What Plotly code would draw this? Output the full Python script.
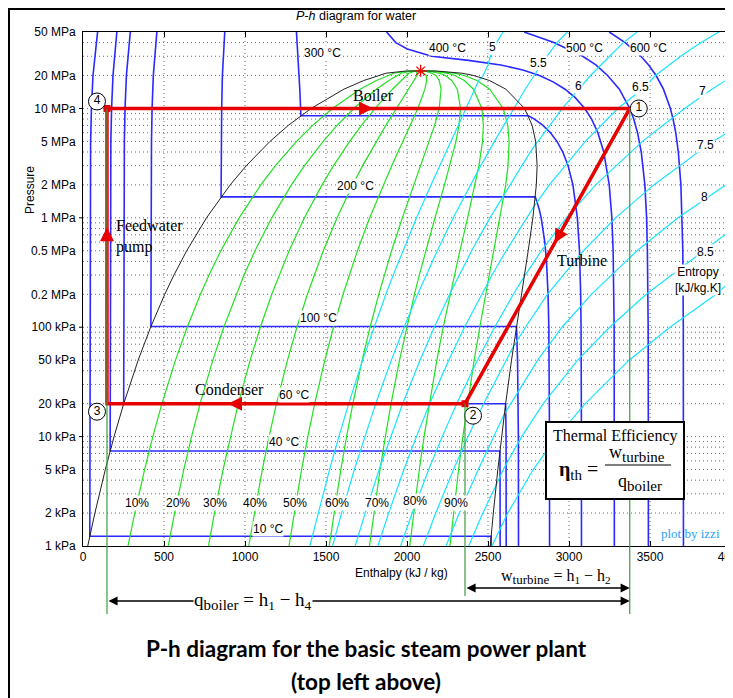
import math
import plotly.graph_objects as go

# ------------------------------------------------------------------ data
# saturation table: pressure (kPa), hf, hg (kJ/kg), sf, sg (kJ/kg.K)
sat_P = [1, 2, 5, 10, 20, 50, 100, 200, 300, 500, 1000, 2000, 3000, 5000, 7000,
         10000, 15000, 18000, 20000, 21000, 22000, 22064]
sat_hf = [29.3, 73.43, 137.75, 191.81, 251.42, 340.54, 417.51, 504.70, 561.43, 640.09,
          762.51, 908.47, 1008.3, 1154.5, 1267.2, 1408.1, 1610.2, 1732.9, 1827.2,
          1870.0, 1995.0, 2084.3]
sat_hg = [2513.7, 2532.9, 2560.7, 2583.9, 2608.9, 2645.2, 2675.0, 2706.3, 2724.9, 2748.1,
          2777.1, 2798.3, 2803.2, 2794.2, 2772.6, 2725.5, 2610.7, 2509.5, 2412.3,
          2340.0, 2180.0, 2084.3]
sat_sf = [0.1059, 0.2606, 0.4762, 0.6492, 0.8320, 1.0912, 1.3028, 1.5302, 1.6717, 1.8604,
          2.1381, 2.4470, 2.6454, 2.9207, 3.1224, 3.3603, 3.6848, 3.8720, 4.0156,
          4.10, 4.29, 4.407]
sat_sg = [8.9749, 8.7227, 8.3938, 8.1488, 7.9073, 7.5931, 7.3589, 7.1270, 6.9917, 6.8207,
          6.5850, 6.3390, 6.1856, 5.9737, 5.8148, 5.6159, 5.3097, 5.1061, 4.9314,
          4.83, 4.55, 4.407]

# quality lines
qualities = [0.1, 0.2, 0.3, 0.4, 0.5, 0.6, 0.7, 0.8, 0.9]
quality_labels = ["10%", "20%", "30%", "40%", "50%", "60%", "70%", "80%", "90%"]

# isotherms (pressure kPa, enthalpy kJ/kg)
t10_P = [50000, 20000, 10000, 5000, 1.228, 1.228, 1]
t10_h = [90.0, 61.7, 52.0, 47.0, 42.0, 2519.2, 2519.5]
t40_P = [50000, 20000, 10000, 5000, 7.385, 7.385, 5, 1]
t40_h = [209.0, 185.1, 176.4, 171.9, 167.5, 2573.5, 2574.3, 2575.0]
t60_P = [50000, 20000, 10000, 5000, 19.95, 19.95, 10, 5, 1]
t60_h = [292.0, 267.9, 259.5, 255.3, 251.1, 2608.8, 2611.5, 2612.0, 2612.4]
t100_P = [50000, 20000, 10000, 5000, 101.42, 101.42, 50, 20, 10, 1]
t100_h = [456.0, 434.0, 426.5, 422.7, 419.1, 2676.0, 2682.4, 2686.2, 2687.5, 2688.3]
t200_P = [50000, 30000, 20000, 10000, 5000, 1554.9, 1554.9, 1400, 1200, 1000, 800, 600,
          400, 200, 100, 50, 10, 1]
t200_h = [875.0, 867.0, 860.5, 856.0, 853.9, 852.3, 2792.0, 2803.0, 2816.0, 2828.3,
          2839.8, 2850.6, 2860.9, 2870.7, 2875.5, 2877.8, 2879.6, 2880.0]
t300_P = [50000, 30000, 20000, 15000, 10000, 8581, 8581, 8000, 7000, 6000, 5000, 4000,
          3000, 2000, 1000, 500, 200, 100, 10, 1]
t300_h = [1317.6, 1327.9, 1334.3, 1338.3, 1343.3, 1344.8, 2749.6, 2786.5, 2839.4, 2885.5,
          2925.7, 2961.7, 2994.3, 3024.2, 3051.6, 3064.6, 3072.1, 3074.5, 3076.7, 3077.0]
t400_P = [50000, 40000, 35000, 30000, 27500, 25000, 22500, 20000, 17500, 15000, 12500,
          10000, 8000, 6000, 4000, 2000, 1000, 500, 100, 10, 1]
t400_h = [1874.0, 1930.8, 2002.0, 2152.8, 2380.0, 2578.0, 2715.0, 2818.1, 2902.0, 2975.7,
          3040.0, 3097.5, 3139.4, 3178.3, 3214.5, 3248.4, 3264.5, 3272.4, 3278.6, 3279.9,
          3280.0]
t500_P = [50000, 40000, 30000, 25000, 20000, 15000, 10000, 8000, 6000, 4000, 2000, 1000,
          500, 100, 10, 1]
t500_h = [2723.0, 2906.5, 3084.8, 3165.9, 3238.2, 3310.8, 3375.1, 3399.5, 3423.1, 3446.0,
          3468.3, 3479.1, 3483.8, 3488.7, 3489.7, 3490.0]
t600_P = [50000, 40000, 30000, 25000, 20000, 15000, 10000, 8000, 6000, 4000, 2000, 1000,
          500, 100, 10, 1]
t600_h = [3248.3, 3346.4, 3443.5, 3491.5, 3537.6, 3583.1, 3625.8, 3642.4, 3658.8, 3674.9,
          3690.7, 3698.6, 3702.5, 3705.6, 3706.3, 3706.5]

# constant-entropy lines: superheated parts (pressure kPa, enthalpy kJ/kg)
s50_P = [20000, 25000, 30000, 40000, 50000]
s50_h = [2470, 2500, 2515, 2553, 2593]
s55_P = [11900, 15000, 20000, 25000, 30000, 40000, 50000]
s55_h = [2688, 2730, 2785, 2828, 2863, 2926, 2990]
s60_P = [4800, 5000, 10000, 15000, 20000, 30000, 40000, 50000]
s60_h = [2796, 2809, 2959, 3058, 3133, 3251, 3335, 3421]
s65_P = [1280, 2000, 5000, 10000, 15000, 20000, 30000, 40000, 50000]
s65_h = [2785, 2879, 3101, 3301, 3452, 3534, 3689, 3815, 3925]
s70_P = [290, 500, 1000, 2000, 5000, 10000, 15000, 20000]
s70_h = [2724, 2829, 2983, 3165, 3453, 3714, 3882, 4015]
s75_P = [66, 100, 200, 500, 1000, 2000, 5000, 10000]
s75_h = [2655, 2731, 2867, 3089, 3288, 3523, 3888, 4227]
s80_P = [16, 20, 50, 100, 200, 500, 1000, 2000, 3000]
s80_h = [2600, 2641, 2807, 2957, 3138, 3420, 3673, 3968, 4120]
s85_P = [3.6, 5, 10, 20, 50, 100, 200, 500, 1000]
s85_h = [2550, 2594, 2708, 2841, 3053, 3251, 3477, 3837, 4100]
s90_P = [1, 2, 5, 10, 20, 50, 100, 200, 300]
s90_h = [2524, 2622, 2779, 2927, 3100, 3371, 3623, 3908, 4040]
entropy_values = [5.0, 5.5, 6.0, 6.5, 7.0, 7.5, 8.0, 8.5, 9.0]
entropy_labels = ["5", "5.5", "6", "6.5", "7", "7.5", "8", "8.5"]

# Rankine cycle states 1..4
state_h = [3375, 2358, 148, 148]
state_P = [10000, 20, 20, 10000]
state_names = ["1", "2", "3", "4"]

# axis
h_ticks = [0, 500, 1000, 1500, 2000, 2500, 3000, 3500, 4000]
p_ticks = [50000, 20000, 10000, 5000, 2000, 1000, 500, 200, 100, 50, 20, 10, 5, 2, 1]
p_tick_text = ["50 MPa", "20 MPa", "10 MPa", "5 MPa", "2 MPa", "1 MPa", "0.5 MPa",
               "0.2 MPa", "100 kPa", "50 kPa", "20 kPa", "10 kPa", "5 kPa", "2 kPa", "1 kPa"]
H_MIN, H_MAX = 0, 4000
P_MIN, P_MAX = 1, 50000

# ------------------------------------------------------------------ layout geometry
# all pixel positions below are page pixels; the page body adds an 8px offset
OFF = 8
PAGE_W, PAGE_H = 733, 698
W, HGT = PAGE_W - OFF, PAGE_H - OFF
L, R, T, B = 83, 731, 32, 546
LOGMIN, LOGMAX = math.log10(P_MIN), math.log10(P_MAX)
SX = (R - L) / (H_MAX - H_MIN)
SY = (B - T) / (LOGMAX - LOGMIN)

SANS = "Liberation Sans, Arial, sans-serif"
SERIF = "Liberation Serif, Times New Roman, serif"
RED = "#e60000"
BLUE = "#2a2aff"
GREEN = "#22e022"
CYAN = "#18e4ff"
DGREEN = "#3c9c3c"


def fx(px):
    return (px - L) / (R - L)


def fy(py):
    return (B - py) / (B - T)


def fy_p(p):
    return (math.log10(p) - LOGMIN) / (LOGMAX - LOGMIN)


def h_shift(h, dpx):
    return h + dpx / SX


def p_shift(p, dpy):
    return p * 10 ** (-dpy / SY)


fig = go.Figure()

# isotherms
for P, h in [(t10_P, t10_h), (t40_P, t40_h), (t60_P, t60_h), (t100_P, t100_h),
             (t200_P, t200_h), (t300_P, t300_h), (t400_P, t400_h), (t500_P, t500_h),
             (t600_P, t600_h)]:
    fig.add_trace(go.Scatter(x=h, y=P, mode="lines", line=dict(color=BLUE, width=1.6),
                             hoverinfo="skip"))

# quality lines
for q in qualities:
    hq = [hf + q * (hg - hf) for hf, hg in zip(sat_hf, sat_hg)]
    fig.add_trace(go.Scatter(x=hq, y=sat_P, mode="lines", line=dict(color=GREEN, width=1.2),
                             hoverinfo="skip"))

# entropy lines
sup_parts = [(s50_P, s50_h), (s55_P, s55_h), (s60_P, s60_h), (s65_P, s65_h), (s70_P, s70_h),
             (s75_P, s75_h), (s80_P, s80_h), (s85_P, s85_h), (s90_P, s90_h)]
for s, (sp, sh) in zip(entropy_values, sup_parts):
    xs, ys = [], []
    for P, hf, hg, sf, sg in zip(sat_P, sat_hf, sat_hg, sat_sf, sat_sg):
        if sf <= s <= sg and sg > sf:
            xs.append(hf + (s - sf) / (sg - sf) * (hg - hf))
            ys.append(P)
    xs += sh
    ys += sp
    fig.add_trace(go.Scatter(x=xs, y=ys, mode="lines", line=dict(color=CYAN, width=1.2),
                             hoverinfo="skip"))

# saturation dome
dome_h = sat_hf + sat_hg[::-1][1:]
dome_P = sat_P + sat_P[::-1][1:]
fig.add_trace(go.Scatter(x=dome_h, y=dome_P, mode="lines", line=dict(color="#222", width=1),
                         hoverinfo="skip"))
fig.add_trace(go.Scatter(x=[sat_hf[-1]], y=[sat_P[-1]], mode="markers",
                         marker=dict(symbol="asterisk-open", size=10, color="red",
                                     line=dict(color="red", width=1.3)), hoverinfo="skip"))

# cycle
cyc_h = [state_h[3], state_h[0], state_h[1], state_h[2], state_h[3]]
cyc_P = [state_P[3], state_P[0], state_P[1], state_P[2], state_P[3]]
fig.add_trace(go.Scatter(x=cyc_h, y=cyc_P, mode="lines", line=dict(color=RED, width=3.5),
                         hoverinfo="skip"))
fig.add_trace(go.Scatter(x=[state_h[1], state_h[3]], y=[state_P[1], state_P[3]], mode="markers",
                         marker=dict(color=RED, size=7, symbol="square"), hoverinfo="skip"))

# circled state numbers
label_off = [(9, 0), (8, 12), (-10, 8), (-10, -7)]
fig.add_trace(go.Scatter(
    x=[h_shift(h, o[0]) for h, o in zip(state_h, label_off)],
    y=[p_shift(p, o[1]) for p, o in zip(state_P, label_off)],
    mode="markers+text", text=state_names, textposition="middle center",
    textfont=dict(family=SANS, size=12, color="black"),
    marker=dict(symbol="circle", size=17, color="white", line=dict(color="black", width=1)),
    hoverinfo="skip"))

# ------------------------------------------------------------------ shapes
shapes = []
grid_line = dict(color="#6a6a6a", width=1, dash="1px,3px")
for k in range(0, 5):
    for m in range(1, 10):
        v = m * 10 ** k
        if P_MIN < v < P_MAX:
            shapes.append(dict(type="line", xref="paper", yref="paper", x0=0, x1=1,
                               y0=fy_p(v), y1=fy_p(v), line=grid_line, layer="below"))
for hv in h_ticks[1:-1]:
    shapes.append(dict(type="line", xref="x", yref="paper", x0=hv, x1=hv, y0=0, y1=1,
                       line=grid_line, layer="below"))
# decade ticks on the pressure axis
for v in [10, 100, 1000, 10000]:
    shapes.append(dict(type="line", xref="paper", yref="paper", x0=fx(L - 4), x1=fx(L),
                       y0=fy_p(v), y1=fy_p(v), line=dict(color="black", width=1)))
    shapes.append(dict(type="line", xref="paper", yref="paper", x0=fx(R - 6), x1=fx(R),
                       y0=fy_p(v), y1=fy_p(v), line=dict(color="black", width=1)))

# green dimension lines
for h, p, end_py in [(state_h[0], state_P[0], 614), (state_h[1], state_P[1], 596),
                     (state_h[3], state_P[3], 614)]:
    shapes.append(dict(type="line", xref="x", yref="paper", x0=h, x1=h, y0=fy_p(p),
                       y1=fy(end_py), line=dict(color=DGREEN, width=1.2), layer="above"))

# thermal efficiency box
shapes.append(dict(type="rect", xref="paper", yref="paper", x0=fx(546), x1=fx(684),
                   y0=fy(422), y1=fy(499), fillcolor="white",
                   line=dict(color="black", width=2), layer="above"))
shapes.append(dict(type="line", xref="paper", yref="paper", x0=fx(605), x1=fx(671),
                   y0=fy(465), y1=fy(465), line=dict(color="black", width=1.2), layer="above"))

# outer frame
shapes.append(dict(type="line", xref="paper", yref="paper", x0=fx(8), x1=fx(740),
                   y0=fy(9), y1=fy(9), line=dict(color="black", width=2)))
shapes.append(dict(type="line", xref="paper", yref="paper", x0=fx(9), x1=fx(9),
                   y0=fy(8), y1=fy(705), line=dict(color="black", width=2)))

# ------------------------------------------------------------------ annotations
ann = []


def text(px, py, s, size=11, family=SANS, color="black", bg=None, xanchor="center",
         yanchor="middle", **kw):
    d = dict(x=fx(px), y=fy(py), xref="paper", yref="paper", text=s, showarrow=False,
             font=dict(size=size, family=family, color=color), xanchor=xanchor,
             yanchor=yanchor)
    if bg:
        d["bgcolor"] = bg
        d["borderpad"] = 0
    d.update(kw)
    ann.append(d)


def leg_arrow(i_from, i_to, frac, length=14):
    ha, hb = state_h[i_from], state_h[i_to]
    la, lb = math.log10(state_P[i_from]), math.log10(state_P[i_to])
    ht = ha + frac * (hb - ha)
    lt = la + frac * (lb - la)
    dx = (hb - ha) * SX
    dy = -(lb - la) * SY
    n = math.hypot(dx, dy)
    ann.append(dict(x=ht, y=lt, xref="x", yref="y", ax=-dx / n * length, ay=-dy / n * length,
                    showarrow=True, arrowhead=2, arrowsize=0.8, arrowwidth=3.5,
                    arrowcolor=RED, standoff=0, text=""))


leg_arrow(3, 0, 0.509)   # boiler
leg_arrow(0, 1, 0.456)   # turbine
leg_arrow(1, 2, 0.662)   # condenser
leg_arrow(2, 3, 0.598)   # pump

# titles
text(356, 16, "<i>P-h</i> diagram for water", size=12.5)
text(401, 573, "Enthalpy (kJ / kg)", size=12)
text(30, 190, "Pressure", size=12, textangle=-90)

# process labels
text(373, 95, "Boiler", size=16, family=SERIF)
text(582, 260, "Turbine", size=16, family=SERIF)
text(229, 389, "Condenser", size=16, family=SERIF)
text(114, 236, "Feedwater<br>pump", size=16, family=SERIF, xanchor="left", align="left")

# isotherm labels
for px, py, s in [(322, 53, "300 °C"), (448, 48, "400 °C"), (584, 48, "500 °C"),
                  (648, 48, "600 °C"), (355, 186, "200 °C"), (318, 318, "100 °C"),
                  (294, 395, "60 °C"), (284, 442, "40 °C"), (268, 529, "10 °C")]:
    text(px, py, s, size=12, bg="white")

# quality labels
for px, s in zip([137, 178, 215, 255, 295, 337, 377, 415, 456], quality_labels):
    text(px, 503 if s != "80%" else 501, s, size=12, bg="white")

# entropy labels
for (px, py), s in zip([(492, 47), (538, 63), (578, 86), (640, 87), (702, 91), (705, 145),
                        (704, 197), (705, 252)], entropy_labels):
    text(px, py, s, size=12, bg="white")
text(698, 280, "Entropy<br>[kJ/kg.K]", size=12, bg="white")

# thermal efficiency
text(615, 436, "Thermal Efficiency", size=16, family=SERIF)
text(578, 470, "<b>η</b><sub><span style='font-size:15px'>th</span></sub> =", size=20,
     family=SERIF)
text(637, 453, "w<sub><span style='font-size:15px'>turbine</span></sub>", size=18,
     family=SERIF)
text(640, 482, "q<sub><span style='font-size:15px'>boiler</span></sub>", size=18,
     family=SERIF)
text(690, 533, "plot by izzi", size=13, family=SERIF, color="#2aa0ff")

# dimension arrows under the chart
ann.append(dict(x=state_h[0], y=fy(588), xref="x", yref="paper", ax=state_h[1], ay=0,
                axref="x", ayref="pixel", showarrow=True, arrowhead=2, arrowsize=1.3,
                arrowwidth=1.4, arrowside="end+start", arrowcolor="black", standoff=0,
                startstandoff=0, text=""))
ann.append(dict(x=state_h[0], y=fy(601), xref="x", yref="paper", ax=state_h[3], ay=0,
                axref="x", ayref="pixel", showarrow=True, arrowhead=2, arrowsize=1.3,
                arrowwidth=1.4, arrowside="end+start", arrowcolor="black", standoff=0,
                startstandoff=0, text=""))
text(556, 577, "w<sub><span style='font-size:13px'>turbine</span></sub> = h<sub>1</sub> − h<sub>2</sub>",
     size=16, family=SERIF)
text(253, 601, "q<sub><span style='font-size:15px'>boiler</span></sub> = h<sub>1</sub> − h<sub>4</sub>",
     size=19, family=SERIF, bg="white")

# caption
text(366, 648, "<b>P-h diagram for the basic steam power plant</b>", size=22.5,
     family="Lato, Open Sans, sans-serif")
text(366, 681, "<b>(top left above)</b>", size=22.5, family="Lato, Open Sans, sans-serif")

fig.update_layout(
    template="none",
    width=W, height=HGT,
    margin=dict(l=L - OFF, r=PAGE_W - R, t=T - OFF, b=PAGE_H - B, pad=0),
    paper_bgcolor="white", plot_bgcolor="white",
    showlegend=False, hovermode=False,
    shapes=shapes, annotations=ann,
    xaxis=dict(range=[H_MIN, H_MAX], tickvals=h_ticks, ticks="inside", ticklen=5,
               tickcolor="black", mirror="ticks", showline=True, linecolor="black",
               linewidth=1, showgrid=False, zeroline=False, automargin=False,
               ticklabeloverflow="allow",
               tickfont=dict(family=SANS, size=12, color="black")),
    yaxis=dict(type="log", range=[LOGMIN, LOGMAX], tickvals=p_ticks, ticktext=p_tick_text,
               ticks="", showline=True, mirror=True, linecolor="black", linewidth=1,
               showgrid=False, zeroline=False, automargin=False, ticklabelstandoff=4,
               tickfont=dict(family=SANS, size=12, color="black")),
)

fig.write_html("out.html")
